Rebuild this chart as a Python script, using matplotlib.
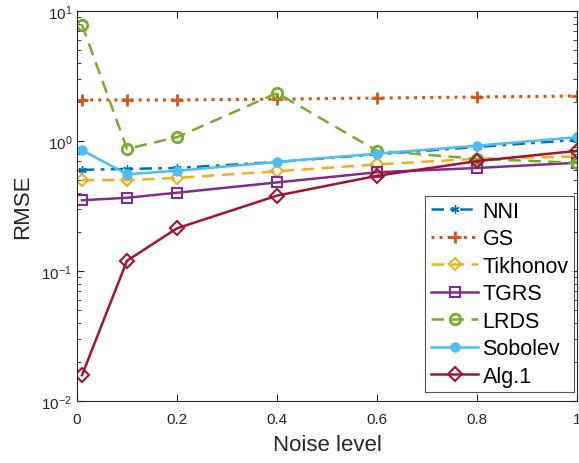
import matplotlib
matplotlib.use('Agg')
import matplotlib.pyplot as plt

plt.rcParams['font.family'] = ['Liberation Sans', 'DejaVu Sans']

noise = [0.01, 0.1, 0.2, 0.4, 0.6, 0.8, 1.0]
nni = [0.60, 0.61, 0.62, 0.69, 0.79, 0.90, 1.02]
gs = [2.07, 2.07, 2.07, 2.10, 2.14, 2.18, 2.22]
tikhonov = [0.50, 0.50, 0.52, 0.585, 0.66, 0.73, 0.76]
tgrs = [0.35, 0.366, 0.40, 0.48, 0.575, 0.62, 0.68]
lrds = [7.85, 0.87, 1.07, 2.34, 0.84, 0.73, 0.68]
sobolev = [0.85, 0.555, 0.59, 0.69, 0.80, 0.92, 1.07]
alg1 = [0.0158, 0.12, 0.213, 0.38, 0.54, 0.70, 0.84]

fig = plt.figure(figsize=(5.79, 4.64), dpi=100)
ax = fig.add_axes([77/579, 1-402/464, 500/579, 390/464])

lw = 1.8
dash = (5, 3)
dashdot = (5, 2.5, 1.5, 2.5)
ax.plot(noise, nni, color='#0072BD', ls=(0, dashdot), marker=(6, 2, 0), ms=6, lw=lw, label='NNI')
ax.plot(noise, gs, ':', color='#D95319', marker='+', ms=8, mew=2, lw=lw + 0.4, label='GS')
ax.plot(noise, tikhonov, color='#EDB120', ls=(0, dash), marker='D', ms=6.5, mfc='none', mew=1.5, lw=lw, label='Tikhonov')
ax.plot(noise, tgrs, '-', color='#7E2F8E', marker='s', ms=6.5, mfc='none', mew=1.5, lw=lw, label='TGRS')
ax.plot(noise, lrds, color='#77AC30', ls=(0, dash), marker='o', ms=7.5, mfc='none', mew=2, lw=lw, label='LRDS')
ax.plot(noise, sobolev, '-', color='#4DBEEE', marker='o', ms=6.5, lw=lw, label='Sobolev')
ax.plot(noise, alg1, '-', color='#A2142F', marker='D', ms=7, mfc='none', mew=1.5, lw=lw, label='Alg.1')

ax.set_yscale('log')
ax.set_xlim(0, 1)
ax.set_ylim(1e-2, 1e1)
ax.set_xticks([0, 0.2, 0.4, 0.6, 0.8, 1])
ax.set_xticklabels(['0', '0.2', '0.4', '0.6', '0.8', '1'])
ax.tick_params(which='both', direction='in', top=True, right=True, labelsize=11, colors='#262626')
ax.tick_params(which='major', length=5)
ax.tick_params(which='minor', length=3)
ax.tick_params(axis='x', pad=8)
for s in ax.spines.values():
    s.set_color('#262626')
    s.set_linewidth(0.8)

ax.set_xlabel('Noise level', fontsize=16, color='#262626', labelpad=6)
ax.set_ylabel('RMSE', fontsize=16, color='#262626', labelpad=6)

leg = ax.legend(loc='lower right', bbox_to_anchor=(0.994, 0.023), fontsize=15.5,
                frameon=True, fancybox=False, edgecolor='#262626', handlelength=2.2,
                handletextpad=0.2, borderpad=0.25, labelspacing=0.3, borderaxespad=0)
leg.get_frame().set_linewidth(0.8)

fig.savefig('out.png', dpi=100)
